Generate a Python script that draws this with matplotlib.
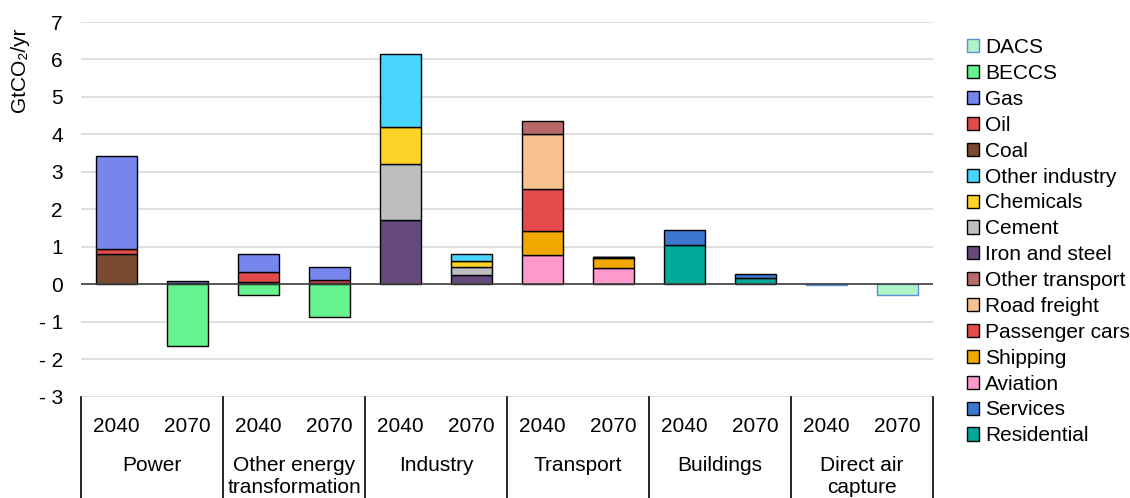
import numpy as np
import matplotlib
matplotlib.use('Agg')
import matplotlib.pyplot as plt
from matplotlib.patches import Patch
import matplotlib.transforms as mtransforms

plt.rcParams['font.family'] = ['Liberation Sans', 'DejaVu Sans']

groups = ['Power', 'Other energy\ntransformation', 'Industry', 'Transport', 'Buildings', 'Direct air\ncapture']
years = ['2040', '2070']

# bars: Power 40/70, Other energy 40/70, Industry 40/70, Transport 40/70, Buildings 40/70, DAC 40/70
residential     = [0, 0, 0, 0, 0, 0, 0, 0, 1.05, 0.16, 0, 0]
services        = [0, 0, 0, 0, 0, 0, 0, 0, 0.40, 0.11, 0, 0]
aviation        = [0, 0, 0, 0, 0, 0, 0.78, 0.43, 0, 0, 0, 0]
shipping        = [0, 0, 0, 0, 0, 0, 0.65, 0.26, 0, 0, 0, 0]
passenger_cars  = [0, 0, 0, 0, 0, 0, 1.11, 0.03, 0, 0, 0, 0]
road_freight    = [0, 0, 0, 0, 0, 0, 1.48, 0.01, 0, 0, 0, 0]
other_transport = [0, 0, 0, 0, 0, 0, 0.34, 0.01, 0, 0, 0, 0]
iron_steel      = [0, 0, 0, 0, 1.71, 0.25, 0, 0, 0, 0, 0, 0]
cement          = [0, 0, 0, 0, 1.49, 0.21, 0, 0, 0, 0, 0, 0]
chemicals       = [0, 0, 0, 0, 1.00, 0.15, 0, 0, 0, 0, 0, 0]
other_industry  = [0, 0, 0, 0, 1.95, 0.20, 0, 0, 0, 0, 0, 0]
coal            = [0.81, 0.02, 0.05, 0.03, 0, 0, 0, 0, 0, 0, 0, 0]
oil             = [0.13, 0.02, 0.27, 0.09, 0, 0, 0, 0, 0, 0, 0, 0]
gas             = [2.49, 0.06, 0.49, 0.35, 0, 0, 0, 0, 0, 0, 0, 0]
beccs           = [0, -1.66, -0.28, -0.87, 0, 0, 0, 0, 0, 0, 0, 0]
dacs            = [0, 0, 0, 0, 0, 0, 0, 0, 0, 0, -0.01, -0.28]

# bottom to top
series = [
    ('Residential', residential, '#00a99a', 'black'),
    ('Services', services, '#3d77d0', 'black'),
    ('Aviation', aviation, '#fd99cc', 'black'),
    ('Shipping', shipping, '#f0a800', 'black'),
    ('Passenger cars', passenger_cars, '#e54b4a', 'black'),
    ('Road freight', road_freight, '#f8c192', 'black'),
    ('Other transport', other_transport, '#b86a68', 'black'),
    ('Iron and steel', iron_steel, '#65497c', 'black'),
    ('Cement', cement, '#bebebe', 'black'),
    ('Chemicals', chemicals, '#fdd327', 'black'),
    ('Other industry', other_industry, '#48d4fd', 'black'),
    ('Coal', coal, '#7b4a32', 'black'),
    ('Oil', oil, '#e24b4b', 'black'),
    ('Gas', gas, '#7686ec', 'black'),
    ('BECCS', beccs, '#66f28f', 'black'),
    ('DACS', dacs, '#aef5c6', '#5b8fd5'),
]

fs = 15

fig = plt.figure(figsize=(11.3, 4.98), dpi=100)
ax = fig.add_axes([0.0717, 0.2034, 0.7540, 0.7524])

n = len(groups) * len(years)
x = np.arange(n) + 0.5
pos_bot = np.zeros(n)
neg_bot = np.zeros(n)
handles = []
for name, vals, col, ec in series:
    v = np.array(vals, dtype=float)
    bot = np.where(v >= 0, pos_bot, neg_bot)
    mask = v != 0
    ax.bar(x[mask], v[mask], bottom=bot[mask], width=0.57, color=col,
           edgecolor=ec, linewidth=1.0, zorder=3)
    pos_bot += np.where(v > 0, v, 0)
    neg_bot += np.where(v < 0, v, 0)
    handles.append(Patch(facecolor=col, edgecolor=ec, linewidth=1.0, label=name))

ax.set_xlim(0, n)
ax.set_ylim(-3, 7)
ax.set_yticks(np.arange(-3, 8))
ax.set_yticklabels([('- %d' % -t) if t < 0 else str(t) for t in range(-3, 8)])
ax.yaxis.grid(True, color='#d9d9d9', linewidth=1.2, zorder=0)
ax.set_axisbelow(True)
ax.axhline(0, color='#404040', linewidth=1.2, zorder=4)
for s in ax.spines.values():
    s.set_visible(False)
ax.tick_params(axis='y', length=0, pad=13, labelsize=fs)
ax.set_xticks(x)
ax.set_xticklabels(years * len(groups))
ax.tick_params(axis='x', length=0, pad=14.5, labelsize=fs)
fig.text(20 / 1130, 1 - 70 / 498, 'GtCO₂/yr', rotation=90, ha='center', va='center',
         fontsize=fs)

trans = mtransforms.blended_transform_factory(ax.transData, ax.transAxes)
for i in range(len(groups) + 1):
    ax.plot([2 * i, 2 * i], [0, -0.35], color='black', linewidth=1.2,
            transform=trans, clip_on=False)
for i, g in enumerate(groups):
    ax.text(2 * i + 1, -0.157, g, transform=trans, ha='center', va='top',
            fontsize=fs, linespacing=1.25)

fig.legend(handles=handles[::-1], loc='upper left', bbox_to_anchor=(0.848, 0.94),
           frameon=False, fontsize=fs, handlelength=0.6, handleheight=0.6,
           handletextpad=0.28, labelspacing=0.33, borderaxespad=0)

fig.savefig('out.png', dpi=100)
